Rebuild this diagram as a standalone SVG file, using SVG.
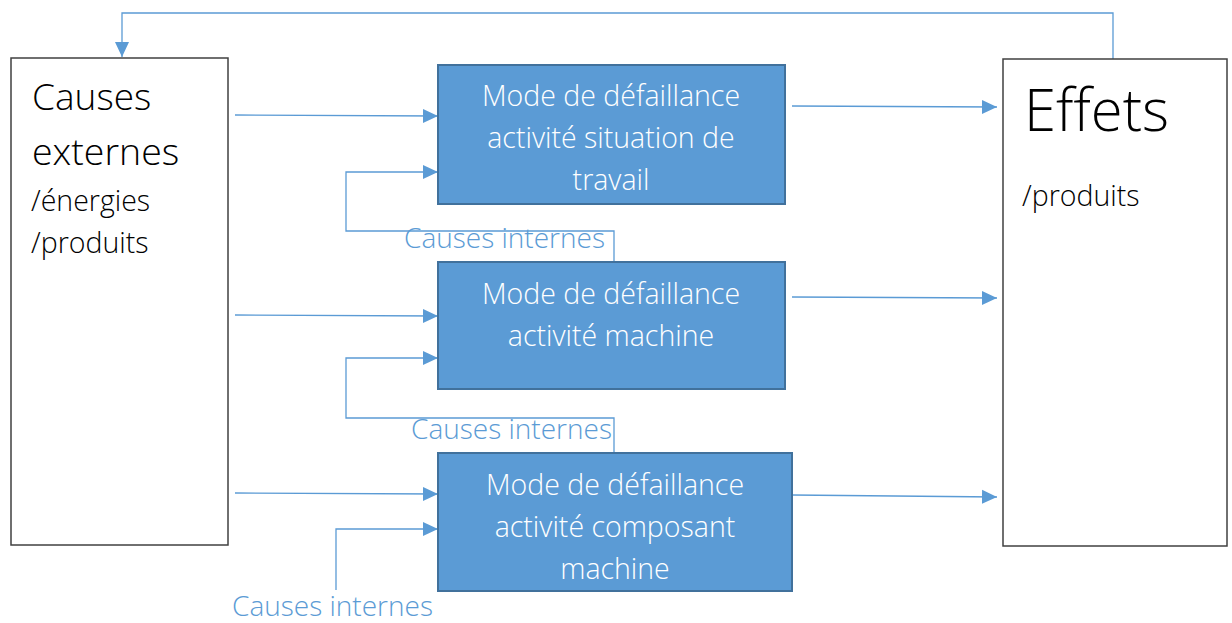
<svg xmlns="http://www.w3.org/2000/svg" width="1232" height="623" viewBox="0 0 1232 623">
<defs>
<marker id="arr" markerUnits="userSpaceOnUse" markerWidth="16" markerHeight="16" viewBox="0 0 16 16" refX="15" refY="8" orient="auto">
<path d="M0,1 L15,8 L0,15 Z" fill="#5B9BD5"/>
</marker>
<style>
.con{fill:none;stroke:#5B9BD5;stroke-width:1.3}
.side{fill:#fff;stroke:#404040;stroke-width:1.5}
.mode{fill:#5B9BD5;stroke:#41719C;stroke-width:2}
.wt{font-family:"Open Sans","Noto Sans",sans-serif;font-weight:300;font-size:28.5px;fill:#fff;text-anchor:middle}
.bt{font-family:"Open Sans","Noto Sans",sans-serif;font-weight:300;fill:#000}
.lbl{font-family:"Open Sans","Noto Sans",sans-serif;font-weight:300;font-size:28px;fill:#5B9BD5}
</style>
</defs>
<g id="connectors">
<path class="con" d="M1113,59 V13 H122 V57" marker-end="url(#arr)"/>
<path class="con" d="M235,115 L438,116" marker-end="url(#arr)"/>
<path class="con" d="M235,315 L438,316" marker-end="url(#arr)"/>
<path class="con" d="M235,493 L438,494" marker-end="url(#arr)"/>
<path class="con" d="M614,262 V231 H346 V172 H438" marker-end="url(#arr)"/>
<path class="con" d="M614,453 V418 H346 V358 H438" marker-end="url(#arr)"/>
<path class="con" d="M336,590 V529 H438" marker-end="url(#arr)"/>
<path class="con" d="M792,106 L997,107" marker-end="url(#arr)"/>
<path class="con" d="M792,297 L997,298" marker-end="url(#arr)"/>
<path class="con" d="M792,495 L997,497" marker-end="url(#arr)"/>
<text class="lbl" x="404" y="248">Causes internes</text>
<text class="lbl" x="411" y="439">Causes internes</text>
<text class="lbl" x="232" y="616">Causes internes</text>
</g>
<g id="causes-externes">
<rect class="side" x="11" y="58" width="217" height="487"/>
<text class="bt" x="32" y="110" font-size="37">Causes</text>
<text class="bt" x="32" y="165" font-size="37.5">externes</text>
<text class="bt" x="31" y="211" font-size="28.5">/énergies</text>
<text class="bt" x="31" y="253" font-size="28.5">/produits</text>
</g>
<g id="effets">
<rect class="side" x="1003" y="59" width="224" height="487"/>
<text class="bt" x="1024" y="131" font-size="58">Effets</text>
<text class="bt" x="1022" y="206" font-size="28.5">/produits</text>
</g>
<g id="mode-situation">
<rect class="mode" x="438" y="65" width="347" height="139"/>
<text class="wt" x="611" y="106">Mode de défaillance</text>
<text class="wt" x="611" y="148">activité situation de</text>
<text class="wt" x="611" y="190">travail</text>
</g>
<g id="mode-machine">
<rect class="mode" x="438" y="262" width="347" height="127"/>
<text class="wt" x="611" y="304">Mode de défaillance</text>
<text class="wt" x="611" y="346">activité machine</text>
</g>
<g id="mode-composant">
<rect class="mode" x="438" y="453" width="354" height="138"/>
<text class="wt" x="615" y="495">Mode de défaillance</text>
<text class="wt" x="615" y="537">activité composant</text>
<text class="wt" x="615" y="579">machine</text>
</g>
</svg>
